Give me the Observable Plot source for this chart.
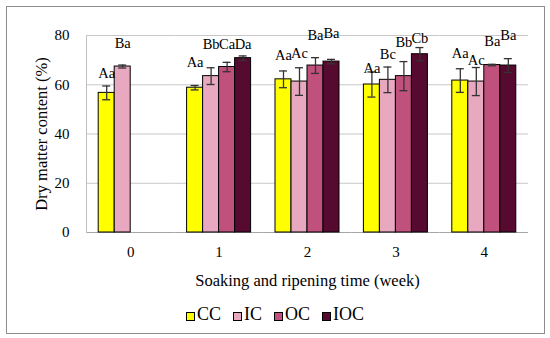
<!DOCTYPE html>
<html>
<head>
<meta charset="utf-8">
<script src="https://cdn.jsdelivr.net/npm/d3@7"></script>
<script src="https://cdn.jsdelivr.net/npm/@observablehq/plot@0.6"></script>
<style>
  html, body { margin: 0; padding: 0; background: #fff; }
  body { width: 550px; height: 338px; position: relative; overflow: hidden; font-family: "Liberation Serif", serif; }
  #border { position: absolute; left: 6px; top: 6px; width: 537px; height: 326px; border: 1px solid #8c8c8c; pointer-events: none; }
  #chart { position: absolute; left: 0; top: 0; }
  #legend { position: absolute; left: 0; top: 304px; width: 550px; display: flex; justify-content: center; align-items: center; font-size: 18px; line-height: 20px; color: #000; }
  .item { display: flex; align-items: center; margin: 0 6px; }
  .sw { width: 7px; height: 7px; border: 1px solid #000; margin-right: 2px; margin-top: 4px; }
</style>
</head>
<body>
<div id="chart"></div>
<div id="legend"></div>
<div id="border"></div>
<script>
const weeks = ["0", "1", "2", "3", "4"];
const treatments = ["CC", "IC", "OC", "IOC"];
const colors = ["#FFFF00", "#E8A8C0", "#C0507C", "#560A30"];

// mean dry matter content (%) per treatment, by week
const CC  = [56.7, 58.8, 62.2, 60.1, 61.7];
const IC  = [67.4, 63.5, 61.3, 62.0, 61.3];
const OC  = [null, 67.2, 67.8, 63.5, 68.0];
const IOC = [null, 70.8, 69.4, 72.4, 67.8];

// error (±)
const CC_err  = [2.8, 0.9, 3.4, 5.1, 4.8];
const IC_err  = [0.6, 3.4, 5.6, 5.2, 5.7];
const OC_err  = [null, 1.9, 3.2, 5.9, 0.3];
const IOC_err = [null, 0.9, 0.9, 2.7, 2.8];

// significance letters
const CC_lab  = ["Aa", "Aa", "Aa", "Aa", "Aa"];
const IC_lab  = ["Ba", "Bb", "Ac", "Bc", "Ac"];
const OC_lab  = [null, "Ca", "Ba", "Bb", "Ba"];
const IOC_lab = [null, "Da", "Ba", "Cb", "Ba"];

// height (in %) at which each letter label sits
const CC_ly  = [64.6, 69.2, 71.9, 66.6, 72.6];
const IC_ly  = [76.8, 76.3, 72.6, 72.3, 70.1];
const OC_ly  = [null, 76.6, 80.0, 77.2, 77.7];
const IOC_ly = [null, 76.6, 80.9, 78.8, 80.0];

const series = {
  CC: [CC, CC_err, CC_lab, CC_ly],
  IC: [IC, IC_err, IC_lab, IC_ly],
  OC: [OC, OC_err, OC_lab, OC_ly],
  IOC: [IOC, IOC_err, IOC_lab, IOC_ly]
};

const rows = [];
for (const t of treatments) {
  const [v, e, l, ly] = series[t];
  weeks.forEach((w, i) => {
    if (v[i] != null) rows.push({week: w, treat: t, value: v[i], err: e[i], letter: l[i], ly: ly[i]});
  });
}

const chart = Plot.plot({
  width: 550,
  height: 292,
  marginLeft: 86,
  marginRight: 22,
  marginTop: 35,
  marginBottom: 60,
  style: {fontFamily: "Liberation Serif, serif", fontSize: "15px", color: "#000", background: "transparent", overflow: "visible"},
  fx: {domain: weeks, padding: 0, round: false},
  x: {domain: treatments, paddingInner: 0, paddingOuter: 0.7625, round: false, axis: null},
  y: {domain: [0, 80]},
  color: {domain: treatments, range: colors},
  marks: [
    Plot.ruleY([20, 40, 60, 80], {stroke: "#c8c8c8", strokeWidth: 1}),
    Plot.ruleY([0], {stroke: "#a6a6a6", strokeWidth: 1}),
    Plot.frame({anchor: "left", fx: ["0"], stroke: "#c0c0c0"}),
    Plot.barY(rows, {fx: "week", x: "treat", y: "value", fill: "treat", stroke: "#000", strokeWidth: 1}),
    Plot.ruleX(rows, {fx: "week", x: "treat", y1: d => d.value - d.err, y2: d => d.value + d.err, stroke: "#333", strokeWidth: 1.3}),
    Plot.tickY(rows, {fx: "week", x: "treat", y: d => d.value - d.err, insetLeft: 4, insetRight: 4, stroke: "#333", strokeWidth: 1.3}),
    Plot.tickY(rows, {fx: "week", x: "treat", y: d => d.value + d.err, insetLeft: 4, insetRight: 4, stroke: "#333", strokeWidth: 1.3}),
    Plot.text(rows, {fx: "week", x: "treat", y: "ly", text: "letter", fontSize: 14.5, fill: "#000"}),
    Plot.axisY({ticks: [0, 20, 40, 60, 80], tickSize: 0, tickPadding: 17, fontSize: 15, label: null}),
    Plot.axisY({ticks: [], label: "Dry matter content (%)", labelAnchor: "center", labelArrow: "none", labelOffset: 51, fontSize: 16.5}),
    Plot.axisFx({anchor: "bottom", tickSize: 0, tickPadding: 14, fontSize: 15, label: null}),
    Plot.axisFx({anchor: "bottom", ticks: [], label: "Soaking and ripening time (week)", labelAnchor: "center", labelArrow: "none", labelOffset: 53, fontSize: 16.5})
  ]
});
document.getElementById("chart").appendChild(chart);

const legend = document.getElementById("legend");
treatments.forEach((t, i) => {
  const item = document.createElement("div");
  item.className = "item";
  const sw = document.createElement("div");
  sw.className = "sw";
  sw.style.background = colors[i];
  const tx = document.createElement("span");
  tx.textContent = t;
  item.appendChild(sw);
  item.appendChild(tx);
  legend.appendChild(item);
});
</script>
</body>
</html>
